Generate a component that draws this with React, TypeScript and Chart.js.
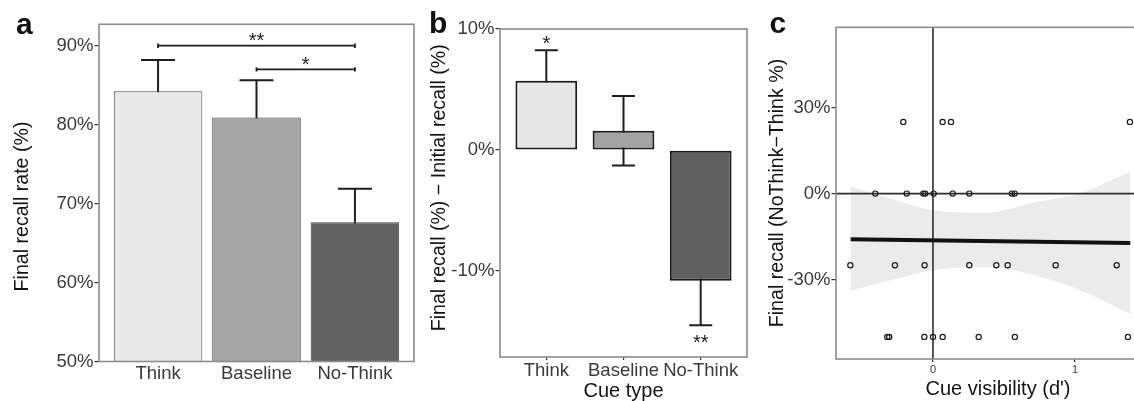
import React, { useEffect, useRef } from 'react';
import { Chart, registerables } from 'chart.js';

Chart.register(...registerables);

const FONT = '"Liberation Sans", Arial, Helvetica, sans-serif';
const TICK_COLOR = '#3a3a3a';
const TEXT_COLOR = '#141414';
const BOX_COLOR = '#8c8c8c';
const INK = '#1e1e1e';

// ---------- Panel a: final recall rate ----------
const recallCategories = ['Think', 'Baseline', 'No-Think'];
const recallRate = [84.23, 80.9, 67.63];
const recallSE = [3.95, 4.72, 4.26];
const recallTicks = [50, 60, 70, 80, 90];
const recallFills = ['#e8e8e8', '#a5a5a5', '#626262'];
const sigFrom = [1, 2];
const sigTo = [3, 3];
const sigLevel = [90, 87];
const sigLabel = ['**', '*'];

// ---------- Panel b: final minus initial recall ----------
const changeCategories = ['Think', 'Baseline', 'No-Think'];
const recallChange = [5.72, 1.59, -10.79];
const changeSE = [2.53, 2.87, 3.68];
const changeTicks = [-10, 0, 10];
const changeStars = ['*', '', '**'];
const changeFills = ['#e6e6e6', '#a3a3a3', '#606060'];

// ---------- Panel c: cue visibility vs recall difference ----------
const visibilityD = [
  -0.209, 0.068, 0.127, 1.387,
  -0.406, -0.185, -0.068, -0.054, 0.005, 0.139, 0.256, 0.556, 0.575,
  -0.582, -0.268, -0.059, 0.256, 0.446, 0.526, 0.864, 1.294,
  -0.322, -0.308, -0.061, 0.0, 0.068, 0.322, 0.577, 1.373,
];
const recallDiff = [
  25, 25, 25, 25,
  0, 0, 0, 0, 0, 0, 0, 0, 0,
  -25, -25, -25, -25, -25, -25, -25, -25,
  -50, -50, -50, -50, -50, -50, -50, -50,
];
const visTicks = [0, 1];
const diffTicks = [-30, 0, 30];
const fitX = [-0.58, 1.39];
const fitY = [-15.9, -17.2];
const bandX = [-0.58, -0.3, 0, 0.37, 0.71, 1.04, 1.39];
const bandUpper = [2.4, -1.7, -5.8, -6.7, -3.2, 0.2, 7.6];
const bandLower = [-33.9, -30.2, -26.7, -25.5, -28.4, -33.7, -42.0];

const tickFont = { family: FONT, size: 18.5 };

const boxPlugin = {
  id: 'panelBox',
  afterDatasetsDraw(chart: any) {
    const { ctx, chartArea } = chart;
    ctx.save();
    ctx.strokeStyle = BOX_COLOR;
    ctx.lineWidth = 1.6;
    ctx.strokeRect(chartArea.left, chartArea.top, chartArea.right - chartArea.left, chartArea.bottom - chartArea.top);
    ctx.restore();
  },
};

function yTitlePlugin(text: string, baselineX: number, centerY: number) {
  return {
    id: 'yTitle',
    afterDraw(chart: any) {
      const ctx = chart.ctx;
      ctx.save();
      ctx.translate(baselineX, centerY);
      ctx.rotate(-Math.PI / 2);
      ctx.font = `19.6px ${FONT}`;
      ctx.fillStyle = TEXT_COLOR;
      ctx.textAlign = 'center';
      ctx.textBaseline = 'alphabetic';
      ctx.fillText(text, 0, 0);
      ctx.restore();
    },
  };
}

function errorBarPlugin(values: number[], se: number[], capPx: number, lw: number) {
  return {
    id: 'errorBars',
    beforeDatasetsDraw(chart: any) {
      const { ctx, scales } = chart;
      ctx.save();
      ctx.strokeStyle = INK;
      ctx.lineWidth = lw;
      values.forEach((v, i) => {
        const x = scales.x.getPixelForValue(i + 1);
        const yHi = scales.y.getPixelForValue(v + se[i]);
        const yLo = scales.y.getPixelForValue(v - se[i]);
        ctx.beginPath();
        ctx.moveTo(x, yHi);
        ctx.lineTo(x, yLo);
        ctx.moveTo(x - capPx / 2, yHi);
        ctx.lineTo(x + capPx / 2, yHi);
        ctx.moveTo(x - capPx / 2, yLo);
        ctx.lineTo(x + capPx / 2, yLo);
        ctx.stroke();
      });
      ctx.restore();
    },
  };
}

const bracketPlugin = {
  id: 'sigBrackets',
  afterDatasetsDraw(chart: any) {
    const { ctx, scales } = chart;
    ctx.save();
    ctx.strokeStyle = INK;
    ctx.fillStyle = INK;
    ctx.lineWidth = 1.8;
    ctx.font = `20px ${FONT}`;
    ctx.textAlign = 'center';
    ctx.textBaseline = 'alphabetic';
    sigFrom.forEach((f, i) => {
      const x1 = scales.x.getPixelForValue(f);
      const x2 = scales.x.getPixelForValue(sigTo[i]);
      const y = scales.y.getPixelForValue(sigLevel[i]);
      ctx.beginPath();
      ctx.moveTo(x1, y);
      ctx.lineTo(x2, y);
      ctx.moveTo(x1, y - 2.2);
      ctx.lineTo(x1, y + 2.2);
      ctx.moveTo(x2, y - 2.2);
      ctx.lineTo(x2, y + 2.2);
      ctx.stroke();
      ctx.fillText(sigLabel[i], (x1 + x2) / 2, y + 1.5);
    });
    ctx.restore();
  },
};

const starPlugin = {
  id: 'stars',
  afterDatasetsDraw(chart: any) {
    const { ctx, scales } = chart;
    ctx.save();
    ctx.fillStyle = INK;
    ctx.font = `20px ${FONT}`;
    ctx.textAlign = 'center';
    ctx.textBaseline = 'alphabetic';
    recallChange.forEach((v, i) => {
      const s = changeStars[i];
      if (!s) return;
      const x = scales.x.getPixelForValue(i + 1);
      if (v >= 0) {
        ctx.fillText(s, x, scales.y.getPixelForValue(v + changeSE[i]) - 0.5);
      } else {
        ctx.fillText(s, x, scales.y.getPixelForValue(v - changeSE[i]) + 24);
      }
    });
    ctx.restore();
  },
};

const zeroLinePlugin = {
  id: 'zeroLines',
  afterDatasetDraw(chart: any, args: any) {
    if (args.index !== 2) return;
    const { ctx, scales, chartArea } = chart;
    const x0 = scales.x.getPixelForValue(0);
    const y0 = scales.y.getPixelForValue(0);
    ctx.save();
    ctx.strokeStyle = '#2e2e2e';
    ctx.lineWidth = 1.6;
    ctx.beginPath();
    ctx.moveTo(chartArea.left, y0);
    ctx.lineTo(chartArea.right, y0);
    ctx.moveTo(x0, chartArea.top);
    ctx.lineTo(x0, chartArea.bottom);
    ctx.stroke();
    ctx.restore();
  },
};

function categoryX(categories: string[], tickLength: number, padding: number, height: number, drawTicks: boolean) {
  return {
    type: 'linear',
    min: 0.4,
    max: 3.6,
    offset: false,
    grid: { display: drawTicks, drawOnChartArea: false, drawTicks, tickLength, offset: false, color: '#333', lineWidth: 1.2 },
    border: { display: false },
    ticks: {
      autoSkip: false,
      maxRotation: 0,
      minRotation: 0,
      padding,
      font: tickFont,
      color: TICK_COLOR,
      callback: (v: number) => categories[Math.round(v) - 1] ?? '',
    },
    afterBuildTicks: (s: any) => {
      s.ticks = categories.map((_, i) => ({ value: i + 1 }));
    },
    afterFit: (s: any) => {
      s.height = height;
    },
  };
}

function valueY(min: number, max: number, ticks: number[], width: number, fmt: (v: number) => string) {
  return {
    min,
    max,
    grid: { drawOnChartArea: false, tickLength: 4.5, color: '#333', lineWidth: 1.2 },
    border: { display: false },
    ticks: { padding: 1, font: tickFont, color: TICK_COLOR, callback: (v: number) => fmt(v) },
    afterBuildTicks: (s: any) => {
      s.ticks = ticks.map((v) => ({ value: v }));
    },
    afterFit: (s: any) => {
      s.width = width;
    },
  };
}

export default function App() {
  const aRef = useRef<HTMLCanvasElement>(null);
  const bRef = useRef<HTMLCanvasElement>(null);
  const cRef = useRef<HTMLCanvasElement>(null);

  useEffect(() => {
    const common = {
      animation: false,
      responsive: false,
      devicePixelRatio: 1,
      events: [],
    };

    const chartA = new Chart(aRef.current as HTMLCanvasElement, {
      type: 'bar',
      data: {
        datasets: [
          {
            data: recallRate.map((v, i) => ({ x: i + 1, y: v })),
            backgroundColor: recallFills,
            borderColor: '#444',
            borderWidth: 1,
            borderSkipped: false,
            categoryPercentage: 1,
            barPercentage: 0.9,
          },
        ],
      },
      options: {
        ...common,
        layout: { padding: { left: 0, top: 24.3, right: 6, bottom: 0 } },
        plugins: { legend: { display: false }, tooltip: { enabled: false } },
        scales: {
          x: categoryX(recallCategories, 0, 1, 401 - 361.5, false),
          y: valueY(50, 92.71, recallTicks, 99, (v) => `${v}%`),
        },
      } as any,
      plugins: [errorBarPlugin(recallRate, recallSE, 34, 2), boxPlugin, bracketPlugin, yTitlePlugin('Final recall rate (%)', 27.5, 206.5)],
    } as any);

    const chartB = new Chart(bRef.current as HTMLCanvasElement, {
      type: 'bar',
      data: {
        datasets: [
          {
            data: recallChange.map((v, i) => ({ x: i + 1, y: v })),
            backgroundColor: changeFills,
            borderColor: '#1a1a1a',
            borderWidth: 2,
            borderSkipped: false,
            categoryPercentage: 1,
            barPercentage: 0.8,
          },
        ],
      },
      options: {
        ...common,
        layout: { padding: { left: 0, top: 29, right: 13, bottom: 0 } },
        plugins: { legend: { display: false }, tooltip: { enabled: false } },
        scales: {
          x: {
            ...categoryX(changeCategories, 3, 0, 44, true),
            title: {
              display: true,
              text: 'Cue type',
              color: TEXT_COLOR,
              font: { family: FONT, size: 20, lineHeight: 1 },
              padding: { top: 0, bottom: 0 },
            },
          },
          y: valueY(-17.1, 10, changeTicks, 80, (v) => `${v}%`),
        },
      } as any,
      plugins: [errorBarPlugin(recallChange, changeSE, 23, 2), boxPlugin, starPlugin, yTitlePlugin('Final recall (%) \u2212 Initial recall (%)', 25, 187.8)],
    } as any);

    const chartC = new Chart(cRef.current as HTMLCanvasElement, {
      type: 'scatter',
      data: {
        datasets: [
          {
            type: 'scatter',
            data: visibilityD.map((x, i) => ({ x, y: recallDiff[i] })),
            pointRadius: 2.6,
            pointBorderWidth: 1.2,
            pointBorderColor: '#1a1a1a',
            pointBackgroundColor: 'rgba(0,0,0,0)',
          },
          {
            type: 'line',
            data: fitX.map((x, i) => ({ x, y: fitY[i] })),
            borderColor: '#111',
            borderWidth: 4,
            pointRadius: 0,
            fill: false,
          },
          {
            type: 'line',
            data: bandX.map((x, i) => ({ x, y: bandLower[i] })),
            borderWidth: 0,
            borderColor: 'rgba(0,0,0,0)',
            pointRadius: 0,
            cubicInterpolationMode: 'monotone',
            fill: false,
          },
          {
            type: 'line',
            data: bandX.map((x, i) => ({ x, y: bandUpper[i] })),
            borderWidth: 0,
            borderColor: 'rgba(0,0,0,0)',
            backgroundColor: '#ebebeb',
            pointRadius: 0,
            cubicInterpolationMode: 'monotone',
            fill: 2,
          },
        ],
      },
      options: {
        ...common,
        layout: { padding: { left: 0, top: 27.3, right: 20, bottom: 0 } },
        plugins: { legend: { display: false }, tooltip: { enabled: false } },
        scales: {
          x: {
            type: 'linear',
            min: -0.683,
            max: 1.599,
            grid: { drawOnChartArea: false, tickLength: 3, color: '#333', lineWidth: 1.2 },
            border: { display: false },
            ticks: { padding: 1, font: { family: FONT, size: 11 }, color: TICK_COLOR, callback: (v: number) => `${v}` },
            afterBuildTicks: (s: any) => {
              s.ticks = visTicks.map((v) => ({ value: v }));
            },
            afterFit: (s: any) => {
              s.height = 42;
            },
            title: {
              display: true,
              text: "Cue visibility (d')",
              color: TEXT_COLOR,
              font: { family: FONT, size: 20, lineHeight: 1 },
              padding: { top: 0, bottom: 1.7 },
            },
          },
          y: valueY(-57.7, 58, diffTicks, 76, (v) => `${v}%`),
        },
      } as any,
      plugins: [zeroLinePlugin, boxPlugin, yTitlePlugin('Final recall (NoThink\u2212Think %)', 22.5, 193)],
    } as any);

    return () => {
      chartA.destroy();
      chartB.destroy();
      chartC.destroy();
    };
  }, []);

  const letter = (ch: string, left: number, top: number) => (
    <div
      style={{
        position: 'absolute',
        left,
        top,
        font: `bold 30px ${FONT}`,
        lineHeight: '30px',
        color: '#111',
      }}
    >
      {ch}
    </div>
  );

  return (
    <div style={{ position: 'absolute', left: 0, top: 0, width: 1134, height: 401, overflow: 'hidden', background: '#fff' }}>
      <canvas ref={aRef} width={420} height={401} style={{ position: 'absolute', left: 0, top: 0 }} />
      <canvas ref={bRef} width={340} height={401} style={{ position: 'absolute', left: 420, top: 0 }} />
      <canvas ref={cRef} width={420} height={401} style={{ position: 'absolute', left: 760, top: 0 }} />
      {letter('a', 16, 8.5)}
      {letter('b', 429, 7.5)}
      {letter('c', 769.5, 7.5)}
    </div>
  );
}
